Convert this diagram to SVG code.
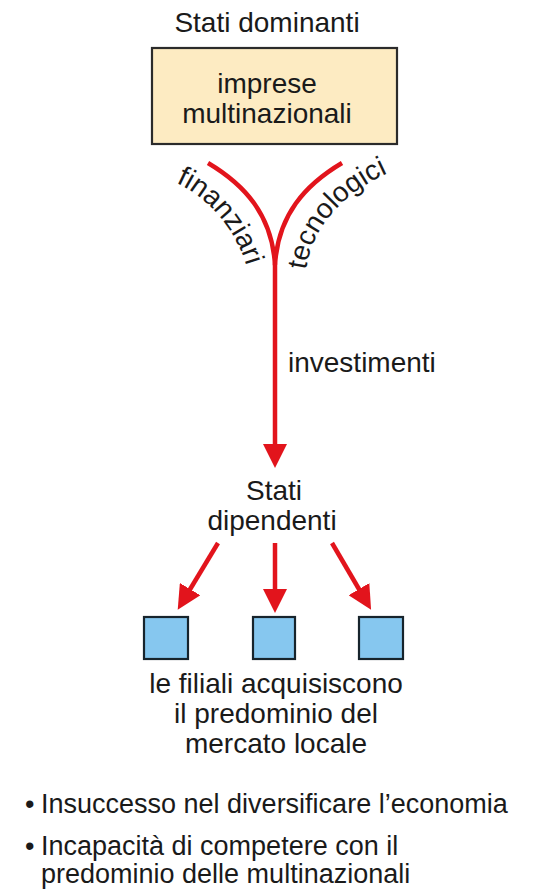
<svg xmlns="http://www.w3.org/2000/svg" width="549" height="893" viewBox="0 0 549 893">
<style>
text{font-family:"Liberation Sans",Arial,sans-serif;font-size:28px;fill:#1a1a1a}
.c{text-anchor:middle}
.b{font-size:27px}
.red{fill:none;stroke:#e2141c;stroke-width:4.5}
.blue{fill:#86c7ef;stroke:#17242c;stroke-width:2.2}
</style>
<defs>
<marker id="ah" viewBox="0 0 24 24" refX="8" refY="12" markerWidth="24" markerHeight="24" orient="auto" markerUnits="userSpaceOnUse">
<path d="M0,0 L24,12 L0,24 Z" fill="#e2141c"/>
</marker>
<path id="pf" d="M176,183 C206,196 240,230 250,280"/>
<path id="pt" d="M306,270 C313,222 350,186 405,166"/>
</defs>
<rect width="549" height="893" fill="#fff"/>
<g id="dominanti">
<text class="c" x="267" y="32">Stati dominanti</text>
</g>
<g id="multinazionali">
<rect x="152" y="48" width="245" height="96" fill="#fdebc2" stroke="#2b2b2b" stroke-width="2.2"/>
<text class="c" x="267" y="93">imprese</text>
<text class="c" x="267" y="123">multinazionali</text>
</g>
<g id="connectors">
<path class="red" d="M208,163 C245,185 272,215 275,265"/>
<path class="red" d="M342,163 C305,185 278,215 275,265 L275,452" marker-end="url(#ah)"/>
<path class="red" d="M218,543 L186,596" marker-end="url(#ah)"/>
<path class="red" d="M275,543 L275,597" marker-end="url(#ah)"/>
<path class="red" d="M332,543 L363,596" marker-end="url(#ah)"/>
<text><textPath href="#pf">finanziari</textPath></text>
<text><textPath href="#pt">tecnologici</textPath></text>
<text x="288" y="372">investimenti</text>
</g>
<g id="dipendenti">
<text class="c" x="274" y="500">Stati</text>
<text class="c" x="272" y="530">dipendenti</text>
</g>
<g id="filiale1"><rect class="blue" x="144" y="617" width="44" height="42"/></g>
<g id="filiale2"><rect class="blue" x="253" y="617" width="42" height="42"/></g>
<g id="filiale3"><rect class="blue" x="359" y="617" width="44" height="42"/></g>
<g id="filiali-testo">
<text class="c" x="276" y="693">le filiali acquisiscono</text>
<text class="c" x="276" y="723">il predominio del</text>
<text class="c" x="276" y="753">mercato locale</text>
</g>
<g id="conseguenze">
<text class="b" x="25" y="813">•</text>
<text class="b" x="41" y="813">Insuccesso nel diversificare l’economia</text>
<text class="b" x="25" y="855">•</text>
<text class="b" x="41" y="855">Incapacità di competere con il</text>
<text class="b" x="41" y="883">predominio delle multinazionali</text>
</g>
</svg>
